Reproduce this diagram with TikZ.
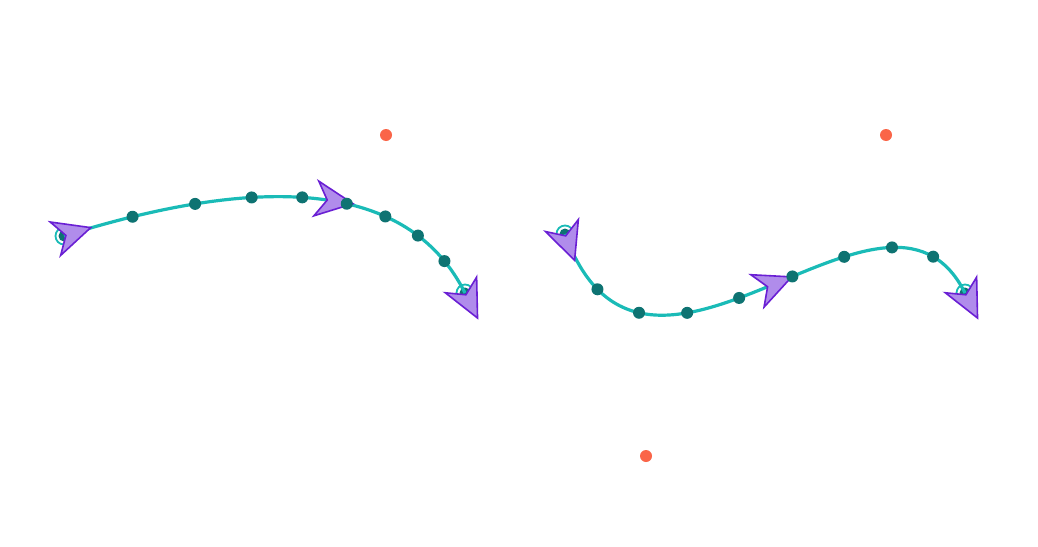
\documentclass[tikz,border=0pt]{standalone}
\usetikzlibrary{calc}
\definecolor{curvecol}{HTML}{1ABBB7}
\definecolor{dotcol}{HTML}{0E7372}
\definecolor{ctrlcol}{HTML}{FA6548}
\definecolor{markfill}{HTML}{B08CEB}
\definecolor{markdraw}{HTML}{6A1FD4}
\tikzset{
  curve/.style={draw=curvecol, line width=3.2pt},
  ptdot/.style={fill=dotcol},
  ctrldot/.style={fill=ctrlcol},
  ring/.style={draw=curvecol, line width=1.8pt},
  markshape/.style={fill=markfill, draw=markdraw, line width=1.6pt, line join=miter},
  arrowmark/.pic={\path[markshape] (28,0) -- (-9,17.5) -- (2,0) -- (-9,-17.5) -- cycle;}
}
\begin{document}
\begin{tikzpicture}[x=1pt,y=-1pt]
\useasboundingbox[fill=white] (0,0) rectangle (1038,546);
% control points
\coordinate (c1) at (386,135);
\coordinate (c2) at (886,135);
\coordinate (c3) at (646,456);
\fill[ctrldot] (c1) circle (6);
\fill[ctrldot] (c2) circle (6);
\fill[ctrldot] (c3) circle (6);
% end points
\coordinate (a0) at (64,236);
\coordinate (a9) at (465,293);
\coordinate (b0) at (565,234);
\coordinate (b9) at (965,293);
\foreach \p in {a0,a9,b0,b9}{
  \fill[ptdot] (\p) circle (5.5);
  \draw[ring] (\p) circle (8.5);
}
% curves
\draw[curve] (a0) .. controls (278.67,168.67) and (412.33,187.67) .. (a9);
\draw[curve] (b0) .. controls (c3) and (c2) .. (b9);
% markers
\pic[rotate=17.41] at (a0) {arrowmark};
\pic[rotate=-8.09] at (325.25,199.75) {arrowmark};
\pic[rotate=-63.43] at (a9) {arrowmark};
\pic[rotate=-69.95] at (b0) {arrowmark};
\pic[rotate=22.26] at (765.75,287.5) {arrowmark};
\pic[rotate=-63.43] at (b9) {arrowmark};
% interior points
\foreach \x/\y in {132.56/216.75,195.11/203.90,251.67/197.44,302.22/197.38,346.78/203.72,385.33/216.44,417.89/235.57,444.45/261.09,
  597.45/289.29,639.04/312.77,687.15/312.85,739.13/297.95,792.35/276.46,844.19/256.81,892.0/247.41,933.14/256.67}{
  \fill[ptdot] (\x,\y) circle (6);
}
\end{tikzpicture}
\end{document}
